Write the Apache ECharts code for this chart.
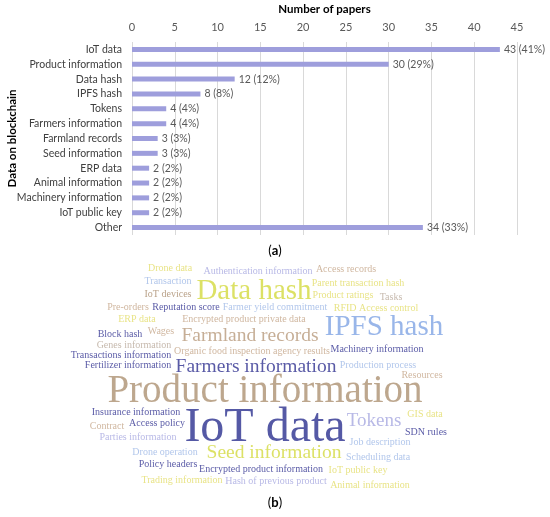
<!DOCTYPE html>
<html><head><meta charset="utf-8">
<script src="https://cdn.jsdelivr.net/npm/echarts@6/dist/echarts.min.js"></script>
<style>html,body{margin:0;padding:0;background:#fff}#c{width:550px;height:517px}</style>
</head><body><div id="c"></div>
<script>
// ---- Panel (a) data ----
const categories = ["IoT data","Product information","Data hash","IPFS hash","Tokens","Farmers information","Farmland records","Seed information","ERP data","Animal information","Machinery information","IoT public key","Other"];
const paperCounts = [43,30,12,8,4,4,3,3,2,2,2,2,34];
const paperPercents = [41,29,12,8,4,4,3,3,2,2,2,2,33];
const xTicks = [0,5,10,15,20,25,30,35,40,45];

// ---- Panel (b) word cloud words ----
const cloudWords = ["Drone data","Authentication information","Access records","Transaction","Parent transaction hash","IoT devices","Data hash","Product ratings","Tasks","Pre-orders","Reputation score","Farmer yield commitment","RFID Access control","ERP data","Encrypted product private data","IPFS hash","Wages","Block hash","Farmland records","Genes information","Machinery information","Organic food inspection agency results","Transactions information","Fertilizer information","Farmers information","Production process","Resources","Product information","Insurance information","GIS data","Tokens","Access policy","Contract","IoT data","SDN rules","Parties information","Job description","Drone operation","Seed information","Scheduling data","Policy headers","Encrypted product information","IoT public key","Trading information","Hash of previous product","Animal information"];

// ---- Word cloud layout (positions / sizes / colour keys), separate from data ----
const cloudLayout = [
 [170,268,10,'y'],[258,271,10,'p'],[346,269,10,'t'],[168,281,10,'l'],[358,283,10,'y'],[168,294,10,'b'],
 [254,291,29,'Y'],[343,295,10,'y'],[391,297,10,'g'],[128,307,10,'t'],[186,307,10,'d'],[275,307,10,'l'],
 [376,308,10,'y'],[137,319,10,'y'],[244,319,10,'t'],[384,327,29,'L'],[161,331,10,'t'],[120,334,10,'d'],
 [250,336,19.5,'T'],[134,345,10,'g'],[377,349,10,'d'],[252,351,10,'t'],[121,355,10,'d'],[128,365,10,'d'],
 [256,367,19.5,'d'],[378,365,10,'l'],[422,375,10,'t'],[265,392,39,'B'],[136,412,10,'d'],[425,414,10,'y'],
 [374,421,19,'p'],[157,423,10,'d'],[107,426,10,'t'],[265,428,48,'D'],[426,432,10,'d'],[138,437,10,'p'],
 [380,442,10,'l'],[165,452,10,'l'],[274,453,19.5,'Y'],[378,457,10,'l'],[168,464,10,'d'],[261,469,10,'d'],
 [358,470,10,'y'],[182,480,10,'y'],[276,481,10,'p'],[370,485,10,'y']
];
const palette = {y:'#e2dc66',p:'#a6a8e0',t:'#c4a588',l:'#9db8e6',b:'#a88a6a',Y:'#d3da3e',g:'#b8a898',d:'#2f3190',L:'#7fa4e4',T:'#b89a7c',B:'#ad9172',D:'#2b2f8f'};

const cloudData = cloudWords.map((w,i)=>({
  value:[cloudLayout[i][0], cloudLayout[i][1]],
  name:w,
  label:{fontSize:cloudLayout[i][2], color:palette[cloudLayout[i][3]]}
}));

const chart = echarts.init(document.getElementById('c'), null, {renderer:'canvas'});
const sans = 'Lato';
chart.setOption({
  animation:false,
  backgroundColor:'#fff',
  grid:[
    {left:132, right:33, top:42, height:193, containLabel:false, outerBoundsMode:'none'},
    {left:0, top:0, width:550, height:517, outerBoundsMode:'none'}
  ],
  xAxis:[
    {type:'value', gridIndex:0, position:'top', min:0, max:45, interval:5,
     name:'Number of papers', nameLocation:'middle', nameGap:27, nameMoveOverlap:false,
     nameTextStyle:{fontFamily:sans, fontWeight:'bold', fontSize:11.5, color:'#000'},
     axisLine:{show:false}, axisTick:{show:false},
     axisLabel:{fontFamily:sans, fontSize:11, color:'#595959', margin:9},
     splitLine:{lineStyle:{color:'#d9d9d9', width:1}}},
    {type:'value', gridIndex:1, min:0, max:550, show:false}
  ],
  yAxis:[
    {type:'category', gridIndex:0, data:categories, inverse:true,
     name:'Data on blockchain', nameLocation:'middle', nameGap:114, nameRotate:90, nameMoveOverlap:false,
     nameTextStyle:{fontFamily:sans, fontWeight:'bold', fontSize:11.5, color:'#000'},
     axisLine:{show:false}, axisTick:{show:false},
     axisLabel:{fontFamily:sans, fontSize:10.5, color:'#404040', margin:10}},
    {type:'value', gridIndex:1, min:0, max:517, inverse:true, show:false}
  ],
  series:[
    {type:'bar', xAxisIndex:0, yAxisIndex:0, data:paperCounts, barWidth:5,
     itemStyle:{color:'#9e9edc'},
     label:{show:true, position:'right', distance:4, fontFamily:sans, fontSize:10.5, color:'#595959',
       formatter:p=>p.value+' ('+paperPercents[p.dataIndex]+'%)'}},
    {type:'scatter', xAxisIndex:1, yAxisIndex:1, data:cloudData, symbolSize:0, silent:true,
     label:{show:true, position:'inside', fontFamily:'Liberation Serif', formatter:p=>p.name}}
  ],
  graphic:[
    {type:'text', left:'center', top:244, style:{text:'{n|(}{b|a}{n|)}', rich:{n:{fontFamily:sans,fontSize:13,color:'#000'},b:{fontFamily:sans,fontSize:13,fontWeight:'bold',color:'#000'}}}},
    {type:'text', left:'center', top:496, style:{text:'{n|(}{b|b}{n|)}', rich:{n:{fontFamily:sans,fontSize:13,color:'#000'},b:{fontFamily:sans,fontSize:13,fontWeight:'bold',color:'#000'}}}}
  ]
});
</script></body></html>
